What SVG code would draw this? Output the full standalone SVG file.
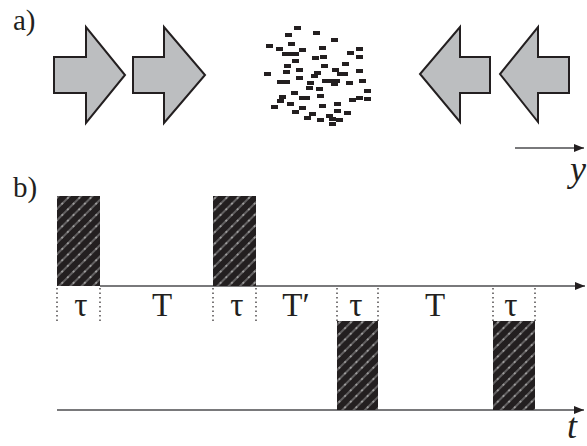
<svg xmlns="http://www.w3.org/2000/svg" width="587" height="446" viewBox="0 0 587 446">
  <style>
    .lbl { font-family: "Liberation Serif", "Times New Roman", serif; fill: #231f20; }
    .big { font-size: 29px; }
    .sym { font-size: 33px; }
    .ax { font-family: "Liberation Serif", "Times New Roman", serif; font-style: italic; font-size: 36px; fill: #231f20; }
    .arrow { fill: #bcbec0; stroke: #231f20; stroke-width: 2; stroke-linejoin: miter; }
    .axis { stroke: #4d4d4f; stroke-width: 1.6; fill: none; }
    .dot { stroke: #231f20; stroke-width: 1.2; stroke-dasharray: 1.5 3; fill: none; }
    .pulse { fill: url(#hatch); }
    .p { fill: #231f20; }
  </style>
  <defs>
    <pattern id="hatch" width="8" height="8" patternUnits="userSpaceOnUse" patternTransform="rotate(45)">
      <rect width="8" height="8" fill="#231f20"/>
      <line x1="4" y1="0" x2="4" y2="8" stroke="#b0b0b0" stroke-width="0.9"/>
      <circle cx="4" cy="4" r="0.8" fill="#e6e6e6"/>
    </pattern>
    <marker id="head" viewBox="0 0 10 8" refX="10" refY="4" markerWidth="10" markerHeight="8" markerUnits="userSpaceOnUse" orient="auto">
      <path d="M0,0 L10,4 L0,8 Z" fill="#231f20"/>
    </marker>
  </defs>

  <!-- panel a -->
  <text class="lbl big" x="13" y="30">a)</text>

  <g id="arrow-right-1">
    <polygon class="arrow" points="54,57 86,57 86,27 125,75 86,123 86,93 54,93"/>
  </g>
  <g id="arrow-right-2">
    <polygon class="arrow" points="133,57 164,57 164,27 205,75 164,123 164,93 133,93"/>
  </g>
  <g id="arrow-left-1">
    <polygon class="arrow" points="490,57 460,57 460,27 420,74 460,122 460,93 490,93"/>
  </g>
  <g id="arrow-left-2">
    <polygon class="arrow" points="569,57 538,57 538,27 500,74 538,122 538,93 569,93"/>
  </g>

  <!-- particle cloud -->
  <g id="cloud" class="p">
    <rect x="294" y="26" width="7" height="4"/>
    <rect x="285" y="33" width="7" height="4"/>
    <rect x="313" y="31" width="7" height="4"/>
    <rect x="331" y="38" width="7" height="4"/>
    <rect x="266" y="44" width="7" height="4"/>
    <rect x="276" y="47" width="7" height="4"/>
    <rect x="288" y="42" width="7" height="4"/>
    <rect x="282" y="52" width="17" height="4"/>
    <rect x="299" y="48" width="7" height="4"/>
    <rect x="319" y="46" width="7" height="4"/>
    <rect x="347" y="51" width="7" height="4"/>
    <rect x="356" y="47" width="7" height="4"/>
    <rect x="292" y="59" width="7" height="4"/>
    <rect x="312" y="56" width="7" height="4"/>
    <rect x="320" y="55" width="7" height="4"/>
    <rect x="356" y="55" width="7" height="4"/>
    <rect x="284" y="64" width="7" height="4"/>
    <rect x="342" y="62" width="7" height="4"/>
    <rect x="264" y="72" width="7" height="4"/>
    <rect x="283" y="70" width="7" height="4"/>
    <rect x="296" y="68" width="7" height="4"/>
    <rect x="321" y="64" width="7" height="4"/>
    <rect x="314" y="71" width="7" height="4"/>
    <rect x="332" y="68" width="7" height="4"/>
    <rect x="337" y="72" width="11" height="4"/>
    <rect x="356" y="69" width="7" height="4"/>
    <rect x="277" y="80" width="13" height="4"/>
    <rect x="296" y="76" width="7" height="4"/>
    <rect x="311" y="74" width="7" height="4"/>
    <rect x="322" y="79" width="18" height="4"/>
    <rect x="331" y="82" width="7" height="4"/>
    <rect x="346" y="81" width="7" height="4"/>
    <rect x="359" y="79" width="7" height="4"/>
    <rect x="307" y="81" width="7" height="4"/>
    <rect x="306" y="86" width="7" height="4"/>
    <rect x="316" y="87" width="7" height="4"/>
    <rect x="364" y="89" width="7" height="4"/>
    <rect x="291" y="91" width="7" height="4"/>
    <rect x="279" y="95" width="7" height="4"/>
    <rect x="277" y="99" width="7" height="4"/>
    <rect x="299" y="96" width="11" height="4"/>
    <rect x="317" y="94" width="7" height="4"/>
    <rect x="349" y="98" width="7" height="4"/>
    <rect x="356" y="96" width="7" height="4"/>
    <rect x="364" y="97" width="7" height="4"/>
    <rect x="271" y="105" width="7" height="4"/>
    <rect x="287" y="102" width="7" height="4"/>
    <rect x="299" y="106" width="7" height="4"/>
    <rect x="319" y="104" width="7" height="4"/>
    <rect x="334" y="102" width="7" height="4"/>
    <rect x="292" y="110" width="7" height="4"/>
    <rect x="309" y="112" width="7" height="4"/>
    <rect x="326" y="114" width="7" height="4"/>
    <rect x="334" y="109" width="7" height="4"/>
    <rect x="344" y="111" width="7" height="4"/>
    <rect x="304" y="116" width="7" height="4"/>
    <rect x="317" y="118" width="7" height="4"/>
    <rect x="329" y="117" width="7" height="4"/>
    <rect x="329" y="122" width="7" height="4"/>
    <rect x="336" y="118" width="7" height="4"/>
  </g>

  <g id="connectors">
    <line class="axis" x1="515" y1="148" x2="584" y2="148" marker-end="url(#head)"/>
    <line class="axis" x1="100" y1="286" x2="585" y2="286" marker-end="url(#head)"/>
    <line class="axis" x1="57" y1="410" x2="584" y2="410" marker-end="url(#head)"/>
    <line class="dot" x1="57" y1="288" x2="57" y2="322"/>
    <line class="dot" x1="100" y1="288" x2="100" y2="322"/>
    <line class="dot" x1="213" y1="288" x2="213" y2="322"/>
    <line class="dot" x1="256" y1="288" x2="256" y2="322"/>
    <line class="dot" x1="337" y1="288" x2="337" y2="321"/>
    <line class="dot" x1="378" y1="288" x2="378" y2="321"/>
    <line class="dot" x1="493" y1="288" x2="493" y2="321"/>
    <line class="dot" x1="535" y1="288" x2="535" y2="321"/>
  </g>

  <text class="ax" x="570" y="181">y</text>

  <!-- panel b -->
  <text class="lbl big" x="13" y="197">b)</text>

  <g id="pulse-1"><rect class="pulse" x="57" y="196" width="43" height="90"/></g>
  <g id="pulse-2"><rect class="pulse" x="213" y="196" width="43" height="90"/></g>
  <g id="pulse-3"><rect class="pulse" x="337" y="321" width="41" height="89"/></g>
  <g id="pulse-4"><rect class="pulse" x="493" y="321" width="42" height="89"/></g>

  <g id="labels" class="lbl sym" text-anchor="middle">
    <text x="81" y="316">τ</text>
    <text x="162" y="316">T</text>
    <text x="237" y="316">τ</text>
    <text x="296" y="316">T′</text>
    <text x="356" y="316">τ</text>
    <text x="435" y="316">T</text>
    <text x="511" y="316">τ</text>
  </g>

  <text class="ax" x="567" y="438">t</text>
</svg>
